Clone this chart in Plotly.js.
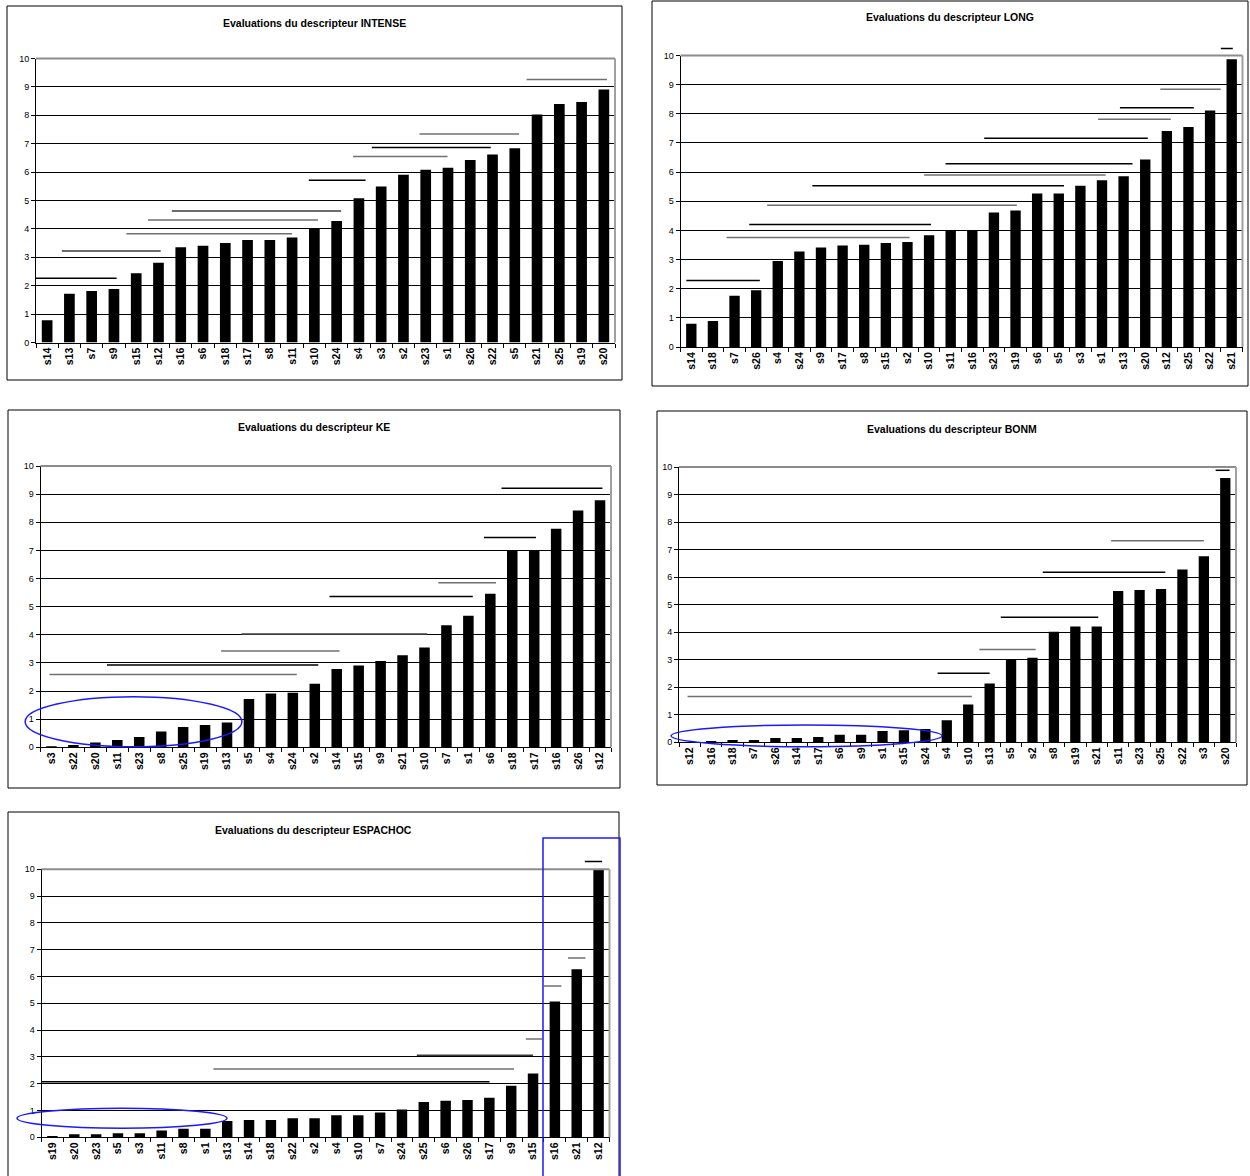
<!DOCTYPE html>
<html><head><meta charset="utf-8">
<script src="https://cdn.plot.ly/plotly-3.0.1.min.js"></script>
<style>html,body{margin:0;padding:0;background:#fff}#chart{width:1250px;height:1176px}</style>
</head><body><div id="chart"></div>
<script>
// ---------- DATA ----------
// INTENSE
const intenseCats = ['s14','s13','s7','s9','s15','s12','s16','s6','s18','s17','s8','s11','s10','s24','s4','s3','s2','s23','s1','s26','s22','s5','s21','s25','s19','s20'];
const intenseVals = [0.78,1.72,1.81,1.88,2.44,2.81,3.35,3.41,3.50,3.61,3.61,3.70,4.01,4.28,5.08,5.49,5.91,6.08,6.15,6.43,6.62,6.84,8.03,8.40,8.47,8.91];
const intenseGroupStart = [-0.5,0.66,3.56,4.53,5.6,11.75,13.74,14.58,16.72,21.53];
const intenseGroupEnd   = [3.12,5.1,11.0,12.16,13.2,14.3,17.98,19.92,21.19,25.14];
const intenseGroupLevel = [2.26,3.22,3.83,4.31,4.63,5.71,6.55,6.87,7.34,9.26];

// LONG
const longCats = ['s14','s18','s7','s26','s4','s24','s9','s17','s8','s15','s2','s10','s11','s16','s23','s19','s6','s5','s3','s1','s13','s20','s12','s25','s22','s21'];
const longVals = [0.80,0.89,1.76,1.95,2.95,3.28,3.41,3.48,3.51,3.57,3.60,3.83,4.00,4.00,4.61,4.68,5.27,5.27,5.53,5.72,5.86,6.43,7.41,7.55,8.11,9.87];
const longGroupStart = [-0.23,1.63,2.68,3.51,5.6,10.77,11.76,13.55,18.82,19.83,21.7,24.5];
const longGroupEnd   = [3.17,10.1,11.09,15.06,17.24,19.17,20.41,21.12,22.18,23.25,24.49,25.05];
const longGroupLevel = [2.28,3.76,4.20,4.86,5.53,5.90,6.29,7.16,7.81,8.21,8.84,10.24];

// KE
const keCats = ['s3','s22','s20','s11','s23','s8','s25','s19','s13','s5','s4','s24','s2','s14','s15','s9','s21','s10','s7','s1','s6','s18','s17','s16','s26','s12'];
const keVals = [0.04,0.08,0.17,0.26,0.37,0.56,0.72,0.79,0.88,1.72,1.91,1.94,2.26,2.78,2.91,3.07,3.27,3.55,4.34,4.68,5.46,6.99,6.99,7.77,8.42,8.78];
const keGroupStart = [-0.09,2.53,7.73,8.66,12.67,17.63,19.71,20.51];
const keGroupEnd   = [11.18,12.16,13.13,17.12,19.2,20.26,22.08,25.11];
const keGroupLevel = [2.59,2.93,3.42,4.04,5.36,5.85,7.46,9.21];
const keHighlight = [-1.2, 8.68, 0.02, 1.80]; // category-index x0,x1 ; value y0,y1

// BONM
const bonmCats = ['s12','s16','s18','s7','s26','s14','s17','s6','s9','s1','s15','s24','s4','s10','s13','s5','s2','s8','s19','s21','s11','s23','s25','s22','s3','s20'];
const bonmVals = [0.0,0.05,0.08,0.08,0.16,0.16,0.19,0.27,0.27,0.41,0.44,0.48,0.80,1.37,2.14,3.01,3.07,4.02,4.21,4.21,5.50,5.53,5.57,6.28,6.76,9.60];
const bonmGroupStart = [-0.1,11.57,13.52,14.52,16.48,19.67,24.55];
const bonmGroupEnd   = [13.17,14.0,16.15,19.07,22.2,24.0,25.2];
const bonmGroupLevel = [1.66,2.51,3.37,4.54,6.18,7.32,9.88];
const bonmHighlight = [-0.87, 11.78, -0.16, 0.63];

// ESPACHOC
const espaCats = ['s19','s20','s23','s5','s3','s11','s8','s1','s13','s14','s18','s22','s2','s4','s10','s7','s24','s25','s6','s26','s17','s9','s15','s16','s21','s12'];
const espaVals = [0.05,0.11,0.11,0.15,0.15,0.25,0.32,0.32,0.61,0.65,0.65,0.71,0.71,0.82,0.82,0.93,1.04,1.32,1.36,1.39,1.48,1.92,2.38,5.07,6.27,10.0];
const espaGroupStart = [-0.5,7.37,16.68,21.67,22.5,23.6,24.37];
const espaGroupEnd   = [20.01,21.13,22.0,22.43,23.3,24.4,25.16];
const espaGroupLevel = [2.07,2.55,3.06,3.67,5.65,6.69,10.29];
const espaHighlight = [-1.62, 7.99, 0.34, 1.08];

// ---------- STYLES ----------
const BLK = '#000000', GRY = '#707070', DGR = '#3c3c3c';
const intenseLineColors = [BLK,DGR,GRY,GRY,DGR,BLK,GRY,BLK,GRY,GRY];
const longLineColors = [BLK,GRY,BLK,GRY,BLK,GRY,BLK,BLK,GRY,BLK,GRY,BLK];
const keLineColors = [GRY,BLK,GRY,GRY,BLK,GRY,BLK,BLK];
const bonmLineColors = [GRY,BLK,GRY,BLK,BLK,GRY,BLK];
const espaLineColors = [BLK,GRY,DGR,GRY,GRY,GRY,BLK];

const W = 1250, H = 1176;
const FONT = 'Liberation Sans, Arial, sans-serif';
const BLUE = '#1a1aff';

const panels = [
  {title:'Evaluations du descripteur INTENSE', cats:intenseCats, vals:intenseVals,
   gs:intenseGroupStart, ge:intenseGroupEnd, gl:intenseGroupLevel, gc:intenseLineColors, hl:null,
   px:[36,615], py:[58.5,342.5], box:[7,6,622,380], ty:23},
  {title:'Evaluations du descripteur LONG', cats:longCats, vals:longVals,
   gs:longGroupStart, ge:longGroupEnd, gl:longGroupLevel, gc:longLineColors, hl:null,
   px:[680.5,1242.5], py:[55.5,347], box:[652,1,1248,386], ty:17},
  {title:'Evaluations du descripteur KE', cats:keCats, vals:keVals,
   gs:keGroupStart, ge:keGroupEnd, gl:keGroupLevel, gc:keLineColors, hl:keHighlight,
   px:[40.5,611], py:[466,747.3], box:[8,410,620,788], ty:427},
  {title:'Evaluations du descripteur BONM', cats:bonmCats, vals:bonmVals,
   gs:bonmGroupStart, ge:bonmGroupEnd, gl:bonmGroupLevel, gc:bonmLineColors, hl:bonmHighlight,
   px:[679,1236], py:[467,742.3], box:[657,411,1247,785], ty:429},
  {title:'Evaluations du descripteur ESPACHOC', cats:espaCats, vals:espaVals,
   gs:espaGroupStart, ge:espaGroupEnd, gl:espaGroupLevel, gc:espaLineColors, hl:espaHighlight,
   px:[41.5,609.5], py:[869.3,1137.3], box:[8,812,619,1200], ty:830}
];

const traces = [];
const layout = {
  width: W, height: H, margin:{l:0,r:0,t:0,b:0},
  paper_bgcolor:'#fff', plot_bgcolor:'#fff', showlegend:false,
  font:{family:FONT, color:'#000'},
  shapes:[], annotations:[]
};

panels.forEach((p, k) => {
  const i = k + 1;
  const xs = i === 1 ? '' : String(i);
  const xid = 'x' + xs, yid = 'y' + xs;
  const n = p.cats.length;
  const yMax = 10;
  traces.push({
    type:'bar', x:p.cats, y:p.vals, xaxis:xid, yaxis:yid,
    marker:{color:'#000', line:{width:0}}, width:0.48, hoverinfo:'x+y'
  });
  layout['xaxis' + xs] = {
    domain:[p.px[0]/W, p.px[1]/W], anchor:yid, type:'category',
    range:[-0.5, n - 0.5], fixedrange:true,
    tickangle:-90, tickfont:{family:FONT, size:10.5, weight:'bold', color:'#000'},
    ticks:'outside', tickson:'boundaries', ticklen:4, tickcolor:'#000', tickwidth:1,
    showline:true, linecolor:'#000', linewidth:1, showgrid:false, zeroline:false
  };
  layout['yaxis' + xs] = {
    domain:[1 - p.py[1]/H, 1 - p.py[0]/H], anchor:xid,
    range:[0, yMax], dtick:1, tick0:0, fixedrange:true,
    ticks:'outside', ticklen:4, tickcolor:'#000', tickwidth:1,
    tickfont:{family:FONT, size:9, color:'#000'},
    showline:true, linecolor:'#000', linewidth:1,
    showgrid:true, gridcolor:'#000', gridwidth:1, zeroline:false
  };
  // panel (chart area) border
  layout.shapes.push({type:'rect', xref:'paper', yref:'paper',
    x0:p.box[0]/W, x1:p.box[2]/W, y0:1 - p.box[3]/H, y1:1 - p.box[1]/H,
    line:{color:'#000', width:1}, fillcolor:'rgba(0,0,0,0)', layer:'below'});
  // grey plot-area top and right edges
  layout.shapes.push({type:'line', xref:xid + ' domain', yref:yid + ' domain',
    x0:0, x1:1, y0:1, y1:1, line:{color:'#8c8c8c', width:2}, layer:'above'});
  layout.shapes.push({type:'line', xref:xid + ' domain', yref:yid + ' domain',
    x0:1, x1:1, y0:0, y1:1, line:{color:'#a0a0a0', width:2}, layer:'above'});
  // homogeneous group lines
  p.gs.forEach((s, j) => {
    layout.shapes.push({type:'line', xref:xid, yref:yid + ' domain',
      x0:s, x1:p.ge[j], y0:p.gl[j]/yMax, y1:p.gl[j]/yMax,
      line:{color:p.gc[j], width:1.5}, layer:'above'});
  });
  // blue ellipse highlight
  if (p.hl) {
    layout.shapes.push({type:'circle', xref:xid + ' domain', yref:yid + ' domain',
      x0:(p.hl[0] + 0.5)/n, x1:(p.hl[1] + 0.5)/n, y0:p.hl[2]/yMax, y1:p.hl[3]/yMax,
      line:{color:BLUE, width:1.5}, fillcolor:'rgba(0,0,0,0)', layer:'above'});
  }
  // title
  layout.annotations.push({xref:'paper', yref:'paper',
    x:((p.box[0] + p.box[2])/2)/W, y:1 - p.ty/H, xanchor:'center', yanchor:'middle',
    text:p.title, showarrow:false, font:{family:FONT, size:10.5, weight:'bold', color:'#000'}});
});

// blue frame around last three bars of ESPACHOC
layout.shapes.push({type:'rect', xref:'paper', yref:'paper',
  x0:543/W, x1:620/W, y0:-0.02, y1:1 - 838/H,
  line:{color:BLUE, width:1.5}, fillcolor:'rgba(0,0,0,0)', layer:'above'});

Plotly.newPlot('chart', traces, layout, {displayModeBar:false, staticPlot:true});
</script>
</body></html>
